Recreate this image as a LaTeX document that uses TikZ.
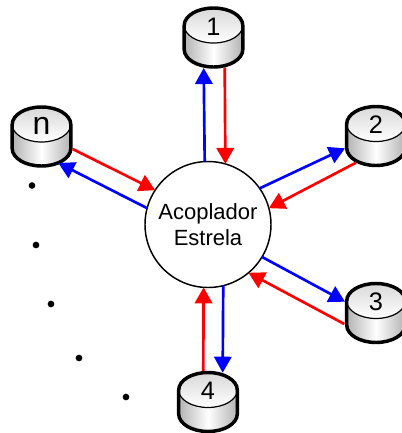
\documentclass[tikz,border=0pt]{standalone}
\usepackage{fontspec}
\setmainfont{Liberation Sans}
\usetikzlibrary{arrows.meta, positioning, calc}
\tikzset{
    sendline/.style={draw=blue, line width=2pt, -{Triangle[length=12pt, width=13pt]}},
    recvline/.style={draw=red, line width=2pt, -{Triangle[length=12pt, width=13pt]}},
    drumlabel/.style={inner sep=0pt, font=\fontsize{19}{19}\selectfont},
    dot/.style={circle, fill=black, inner sep=0pt, minimum size=5pt}
}
% #1 name, #2 position, #3 label
\newcommand{\drum}[3]{
    \begin{scope}[shift={#2}]
        \path[left color=black!30, right color=black!30, middle color=white] (-29.3,-12) -- (-29.3,12) arc[start angle=180, end angle=0, x radius=29.3, y radius=17.5] -- (29.3,-12) arc[start angle=0, end angle=-180, x radius=29.3, y radius=17.5] -- cycle;
        \path[top color=black!15, bottom color=white] (0,-12) ellipse[x radius=29.3, y radius=17.5];
        \draw[line width=0.9pt] (-29.3,-12) arc[start angle=180, end angle=0, x radius=29.3, y radius=17.5];
        \draw[line width=2.6pt, line join=round] (-29.3,-12) -- (-29.3,12) arc[start angle=180, end angle=0, x radius=29.3, y radius=17.5] -- (29.3,-12) arc[start angle=0, end angle=-180, x radius=29.3, y radius=17.5] -- cycle;
    \end{scope}
    \coordinate (#1) at #2;
    \node (#1label) [drumlabel] at ($(#1)+(0,-11)$) {#3};
}
\begin{document}
\begin{tikzpicture}[x=0.75pt, y=-0.75pt]
    \useasboundingbox (0,0) rectangle (401,433);

    \node (star) [draw, circle, line width=1.1pt, fill=white, minimum size=94.5pt, inner sep=0pt, outer sep=0pt, align=center, font=\fontsize{16.5}{19.7}\selectfont] at (208,224.5) {Acoplador\\Estrela};

    \drum{disk1}{(213.5,37.5)}{1}
    \drum{disk2}{(376,136)}{2}
    \drum{disk3}{(376,313)}{3}
    \drum{disk4}{(208,402)}{4}
    \drum{diskn}{(41.5,136.5)}{\fontsize{24}{24}\selectfont n}

    \draw[sendline] (star.93.6) -- ($(disk1)+(-9.8,30.5)$);
    \draw[recvline] ($(disk1)+(11.2,30)$) -- (star.74.8);

    \draw[sendline] (star.35.9) -- ($(disk2)+(-31,12.3)$);
    \draw[recvline] ($(disk2)+(-20,26.7)$) -- (star.15.8);

    \draw[sendline] (star.-31.7) -- ($(disk3)+(-31,-11.3)$);
    \draw[recvline] ($(disk3)+(-31.7,11)$) -- (star.-50.3);

    \draw[recvline] ($(disk4)+(-4.7,-31)$) -- (star.-94.2);
    \draw[sendline] (star.-76.6) -- ($(disk4)+(14.7,-29.3)$);

    \draw[recvline] ($(diskn)+(31.2,12.5)$) -- (star.147.8);
    \draw[sendline] (star.165.8) -- ($(diskn)+(16.8,26.5)$);

    \node (dota) [dot] at (32,185.5) {};
    \node (dotb) [dot] at (36,245) {};
    \node (dotc) [dot] at (51,304) {};
    \node (dotd) [dot] at (79,358) {};
    \node (dote) [dot] at (126,397) {};
\end{tikzpicture}
\end{document}
